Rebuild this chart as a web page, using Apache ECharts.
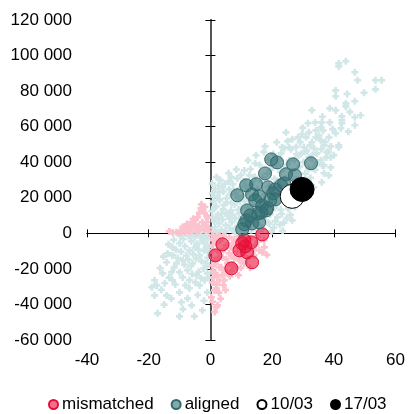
<!DOCTYPE html>
<html><head><meta charset="utf-8">
<script src="https://cdn.jsdelivr.net/npm/echarts@6/dist/echarts.min.js"></script>
<style>html,body{margin:0;padding:0;background:#fff}#c{width:408px;height:414px}</style>
</head><body><div id="c"></div>
<script>
const xTickLabels = ['-40','-20','0','20','40','60'];
const yTickLabels = ['-60 000','-40 000','-20 000','0','20 000','40 000','60 000','80 000','100 000','120 000'];
const legendNames = ['mismatched','aligned','10/03','17/03'];

const alignedCloud = [
[41.6,95600],[41.6,93900],[43.9,96800],[46.8,90600],[47.7,86100],[53.5,86100],[55.5,86100],[53.5,81000],[40.6,80400],[40.6,77100],
[43.9,73100],[43.9,71400],[46.8,74300],[32.9,69200],[38.7,70300],[40.6,69200],[42.6,65800],[42.6,63600],[42.6,61900],[46.8,65300],
[48.7,66400],[46.8,60800],[31.6,61900],[33.9,62400],[36.1,62400],[38.7,62400],[35.8,59600],[34.2,57900],[36.5,57900],[31.9,56800],
[29.7,55700],[28.4,54000],[26.5,52900],[24.5,56800],[31.0,54000],[34.2,54000],[35.2,55100],[40.6,56300],[42.3,59100],[38.4,54000],
[32.9,51200],[35.8,52300],[30.3,48400],[32.3,49500],[36.8,49500],[39.0,48900],[41.6,48400],[37.7,45600],[40.0,43900],[34.5,45000],
[17.7,48900],[23.9,47800],[26.1,47300],[14.8,43900],[14.5,39400],[39.0,37100],[35.8,41100],[28.7,43900],[32.9,42200],[36.8,33800],
[36.1,28700],[31.9,42800],[34.5,39400],[36.8,38200],[33.5,36600],[39.0,42800],[38.4,32600],[33.5,25900],[41.6,49500],
[11.0,35400],[12.6,32600],[6.8,31500],[8.7,30900],[0.6,28100],[2.9,23100],[0.6,22500],[23.2,48400],[25.5,48400],[22.9,45000],
[3.9,25900],[2.3,20500],[2.9,18600],[1.3,14600],[5.2,19700],[6.8,16900],[5.2,11200],[0.6,9000],
[0.8,1200],[2.1,500],[3.5,2000],[1.5,3400],[4.8,1100],[6.2,3000],[5.0,4600],[2.8,5500],[7.5,1800],[8.8,4200],
[6.9,6300],[3.9,7800],[1.2,6900],[9.7,2600],[10.9,5800],[8.1,8500],[5.6,9900],[2.4,10600],[12.2,3100],[11.6,8900],
[9.3,11200],[6.7,12800],[4.1,13500],[1.9,15100],[13.8,6400],[14.6,9800],[12.4,12700],[10.2,14600],[7.8,16200],[5.3,17400],
[3.0,19200],[16.1,4500],[17.3,8200],[15.9,12600],[13.5,15900],[11.1,18400],[8.9,20100],[6.4,21900],[4.2,23500],[18.6,6100],
[19.4,10800],[17.8,14900],[16.2,18300],[14.1,21200],[12.0,23600],[9.6,25400],[7.3,27600],[20.5,3200],[21.7,9100],[20.9,14300],
[19.2,17600],[17.5,21800],[15.3,24900],[13.2,27100],[10.8,29300],[22.8,13200],[22.1,18800],[20.7,22600],[18.9,26300],[16.6,29400],
[14.3,31800],[24.6,17100],[23.9,22400],[22.5,26900],[20.8,30600],[18.4,33500],[26.3,21000],[25.8,26200],[24.4,30800],[22.7,34600],
[20.1,37200],[28.1,25400],[27.6,30100],[26.2,34900],[24.8,38600],[22.3,41300],[29.8,28700],[30.7,33600],[28.9,37400],[27.3,41200],
[32.4,31200],[31.8,36300],[30.2,40100],[29.4,44800],[33.9,35700],[34.8,39800],[33.1,44100],[31.2,46600],[36.2,38200],[37.5,42700],
[35.9,47300],[38.3,45900],[2.6,26800],[1.1,20500],[0.5,12400],[3.2,29900],[5.9,33800],[8.4,35900],[22.5,4800],[24.8,8600],
[26.5,7300],[23.4,1400],[19.8,1100],[15.6,1600],[11.4,1000],[7.9,600],[14.2,3700],[10.1,7600],[4.4,15900],[7.1,10400],
[9.0,13300],[12.8,10100],[15.0,7200],[18.1,11900],[16.9,16400],[3.6,11000],[1.7,8100],[0.9,17900],[6.1,24800],[8.2,22700],
[10.6,21100],[12.9,19300],[14.9,15100],[19.9,20300],[21.4,16200],[23.1,10900],[25.2,13800],[27.0,18100],[28.6,22300],[30.1,24800],
[1.4,24900],[4.7,27900],[2.0,31600],[6.0,29300],[9.9,32800],[13.0,36200],[16.0,38400],[18.8,41500],[20.4,44600],[17.3,45800],
[12.2,41000],[21.5,51200],[25.0,51800],[27.8,48600],[29.1,51300],[33.6,47800],[37.2,51400],[39.6,58600],[44.7,57200],[45.2,68300],
[44.3,78400],[49.8,79100],[36.3,65600],[29.9,59300],[8.0,2400],[10.5,4000],[13.2,1700],[17.0,2600],[19.1,5400],[21.0,6700],
[23.8,6000],[25.9,10400],[27.4,14800],[29.0,19300],[12.0,15200],[14.0,12000],[16.4,9900],[6.3,8200],[3.0,9500],[9.5,18000],
[7.5,24000],[11.5,26400],[13.9,29800],[17.0,31400],[19.5,35700],[21.8,38200],[23.8,36300],[25.6,40900],[27.9,44500],[30.8,45900],
[-1.5,-1200],[-3.2,-800],[-5.1,-2100],[-7.0,-1500],[-8.8,-3200],[-2.4,-4600],[-4.3,-5800],[-6.2,-4400],[-0.8,-3100],[-0.6,-10800],
[-2.1,-9700],[-3.9,-9100],[-5.6,-11700],[-7.8,-12600],[-9.5,-10400],[-11.2,-9200],[-8.2,-7300],[-10.6,-13900],[-0.9,-13800],[-2.9,-15600],
[-4.6,-14200],[-6.3,-18400],[-8.4,-17700],[-2.2,-19800],[-3.8,-21600],[-0.7,-24900],[-5.9,-22900],[-11.8,-19200],[-13.4,-24900],
[-10.0,-5600],[-12.3,-7900],[-13.9,-11300],[-12.3,-12400],[-14.2,-16300],[-11.0,-16900],[-9.0,-15200],[-6.8,-9600],[-4.5,-6800],[-2.6,-3900],
[-1.3,-7900],[-3.5,-12400],[-5.8,-16900],[-7.4,-20800],[-10.0,-21900],[-12.6,-21900],[-15.5,-22500],[-18.1,-26400],[-17.4,-29300],[-14.8,-28100],
[-12.3,-26400],[-9.0,-24800],[-6.8,-26400],[-4.5,-23600],[-1.9,-26400],[-3.5,-29300],[-6.8,-30900],[-10.0,-33200],[-14.2,-34900],[-18.1,-34900],
[-9.4,-38800],[-7.4,-36600],[-6.1,-40500],[-2.6,-43300],[-17.1,-45000],[-10.0,-46700],[-5.2,-46700],[-1.0,-33200],[-1.0,-22500],[-1.3,-16900],
[-3.0,-2200],[-6.1,-800],[-9.8,-1400],[-11.9,-3600],[-13.6,-6200],[-15.2,-13100],[-16.3,-19600],[-7.2,-14800],[-5.0,-8100],[-1.8,-5600],
[-0.5,-7500],[-1.4,-18800],[-3.0,-25200],[-4.9,-27600],[-8.1,-29200],[-11.4,-28800],[-15.9,-31700],[-19.0,-30300],[-12.7,-36700],[-8.9,-42600],
[-4.1,-34700],[-2.1,-37900],[-15.0,-40100]
];

const mismatchedCloud = [
[1.9,-2300],[6.1,-2300],[7.1,-5600],[3.9,-13500],[6.1,-11300],[7.7,-14100],[10.0,-15200],[11.0,-16900],[3.5,-19100],[2.3,-23600],
[0.6,-27600],[2.9,-26400],[1.3,-32100],[1.9,-41600],[15.8,-9600],[16.8,-10700],[14.2,-12400],[8.4,-19100],[5.2,-21900],[1.3,-22500],
[4.5,-26400],[1.9,-30900],[0.3,-36000],[2.9,-19100],[4.5,-20800],[5.5,-16900],[9.4,-15200],[2.3,-40500],[1.9,-5100],[5.2,-6800],
[2.9,-1100],[9.4,-1700],[12.6,-2800],[15.2,-1700],[17.4,-3900],[0.6,-9600],[1.3,-15200],[0.6,-18000],[1.0,-3800],[3.1,-4200],
[4.6,-8800],[2.2,-9500],[6.6,-8100],[8.7,-10200],[0.8,-6600],[2.7,-13800],[5.1,-14600],[7.2,-17900],[1.6,-17200],[3.8,-23500],
[0.9,-21000],[6.3,-24100],[12.3,-8200],[14.7,-6900],[17.5,-7800],[10.5,-12600],[9.8,-19400],[4.2,-29200],[1.1,-24800],[2.8,-33400],
[0.7,-38500],[3.3,-36800],[12.8,-19300],[18.3,-12100],
[0.5,-1200],[4.2,-1500],[7.8,-3500],[10.8,-2200],[3.4,-10400],[8.1,-6400],[6.8,-12800],[11.8,-14000],[13.8,-9400],[15.5,-4600],
[2.0,-28900],[1.4,-44200],[4.9,-31900],[6.9,-21200],[9.1,-23600],
[-2.9,16300],[-6.1,6200],[-4.2,9000],[-1.9,11200],[-1.3,6200],[-5.8,2800],[-7.7,1700],[-3.5,2800],[-1.3,3400],[-10.0,600],
[-9.4,600],[-11.0,600],[-2.6,6200],[-4.5,600],[-6.8,1100],[-0.7,1400],[-2.2,1900],[-3.8,4100],[-5.2,4900],[-0.9,8700],
[-2.4,12800],[-4.8,7500],[-8.6,2600],[-6.9,3800],[-12.2,400],[-1.6,4600],[-3.1,14100],
[-1.2,9800],[-3.6,11600],[-5.6,8200],[-7.6,5200],[-9.0,3600],[-4.1,1500],[-8.2,500],[-13.3,1100],[-1.8,14800],[-0.6,3000]
];

const mismatchedPoints = [
[3.9,-6200],[1.6,-12400],[6.8,-19700],[10.3,-5600],[9.4,-9600],[11.9,-10700],[13.5,-16300],[13.2,-5100],[16.8,-600],[11.3,-7300],[11.0,-3900]
];

const alignedPoints = [
[19.7,41600],[21.6,39900],[26.8,38800],[32.6,39400],[17.7,33700],[24.5,33200],[27.4,32600],[11.6,27000],[14.8,27600],[18.7,25900],
[21.0,24700],[22.9,27000],[8.7,21400],[13.5,21900],[15.8,20800],[20.3,22500],[21.0,19100],[16.8,15700],[18.4,14100],[15.5,11200],
[11.9,12900],[16.5,11800],[18.1,12900],[11.6,7300],[13.5,5600],[15.8,6200],[11.0,5100],[10.3,2200],[12.9,10100],[19.4,18600],
[23.9,28100],[14.5,18600]
];

const points1003 = [[26.5,20800]];
const points1703 = [[29.7,24700]];

const xMin = -40, xMax = 60, xInterval = 20;
const yMin = -60000, yMax = 120000, yInterval = 20000;
const FONT = '"Liberation Sans", Arial, sans-serif';
const plus = 'path://M2.5,0H5.5V2.5H8V5.5H5.5V8H2.5V5.5H0V2.5H2.5Z';

function xAxisBase(extra) {
  return Object.assign({
    type: 'value', min: xMin, max: xMax, interval: xInterval,
    splitLine: { show: false }
  }, extra);
}
function yAxisBase(extra) {
  return Object.assign({
    type: 'value', min: yMin, max: yMax, interval: yInterval,
    splitLine: { show: false }
  }, extra);
}

const chart = echarts.init(document.getElementById('c'), null, { renderer: 'canvas' });
chart.setOption({
  animation: false,
  backgroundColor: '#fff',
  grid: { left: 87, right: 12, top: 20, bottom: 74, containLabel: false },
  legend: {
    data: legendNames, left: 48, top: 396, padding: 0,
    icon: 'circle', itemWidth: 9, itemHeight: 9, itemGap: 17,
    textStyle: { fontSize: 17, color: '#000', fontFamily: FONT, padding: [0, 0, 0, -1] }
  },
  xAxis: [
    xAxisBase({ position: 'bottom', axisLine: { show: false, onZero: false }, axisTick: { show: false },
      axisLabel: { margin: 12, fontSize: 17, color: '#000', fontFamily: FONT,
        formatter: v => xTickLabels[Math.round((v - xMin) / xInterval)] } }),
    xAxisBase({ position: 'bottom', axisLine: { show: true, onZero: true, lineStyle: { color: '#000', width: 1 } },
      axisTick: { show: true, length: 4, lineStyle: { color: '#000', width: 1 } }, axisLabel: { show: false } }),
    xAxisBase({ position: 'top', axisLine: { show: true, onZero: true, lineStyle: { color: '#000', width: 1 } },
      axisTick: { show: true, length: 4, lineStyle: { color: '#000', width: 1 } }, axisLabel: { show: false } })
  ],
  yAxis: [
    yAxisBase({ position: 'left', axisLine: { show: false, onZero: false }, axisTick: { show: false },
      axisLabel: { margin: 15, fontSize: 17, color: '#000', fontFamily: FONT,
        formatter: v => yTickLabels[Math.round((v - yMin) / yInterval)] } }),
    yAxisBase({ position: 'left', axisLine: { show: true, onZero: true, lineStyle: { color: '#555', width: 2 } },
      axisTick: { show: true, length: 5, lineStyle: { color: '#000', width: 1 } }, axisLabel: { show: false } }),
    yAxisBase({ position: 'right', axisLine: { show: true, onZero: true, lineStyle: { color: '#555', width: 2 } },
      axisTick: { show: true, length: 5, lineStyle: { color: '#000', width: 1 } }, axisLabel: { show: false } })
  ],
  series: [
    { type: 'scatter', name: 'alignedCloud', data: alignedCloud, symbol: plus, symbolSize: 7,
      itemStyle: { color: '#d1e6e7', opacity: 1 }, silent: true },
    { type: 'scatter', name: 'mismatchedCloud', data: mismatchedCloud, symbol: plus, symbolSize: 7,
      itemStyle: { color: '#fcc3ce', opacity: 1 }, silent: true },
    { type: 'scatter', name: 'mismatched', data: mismatchedPoints, symbol: 'circle', symbolSize: 13,
      itemStyle: { color: 'rgba(232,16,56,0.6)', borderColor: '#e0103a', borderWidth: 1, opacity: 1 } },
    { type: 'scatter', name: 'aligned', data: alignedPoints, symbol: 'circle', symbolSize: 13,
      itemStyle: { color: 'rgba(50,112,116,0.6)', borderColor: '#346a6d', borderWidth: 1, opacity: 1 } },
    { type: 'scatter', name: '10/03', data: points1003, symbol: 'circle', symbolSize: 24,
      itemStyle: { color: '#fff', borderColor: '#000', borderWidth: 1, opacity: 1 } },
    { type: 'scatter', name: '17/03', data: points1703, symbol: 'circle', symbolSize: 24,
      itemStyle: { color: '#000', borderColor: '#000', borderWidth: 1, opacity: 1 } }
  ]
});
</script>
</body></html>
